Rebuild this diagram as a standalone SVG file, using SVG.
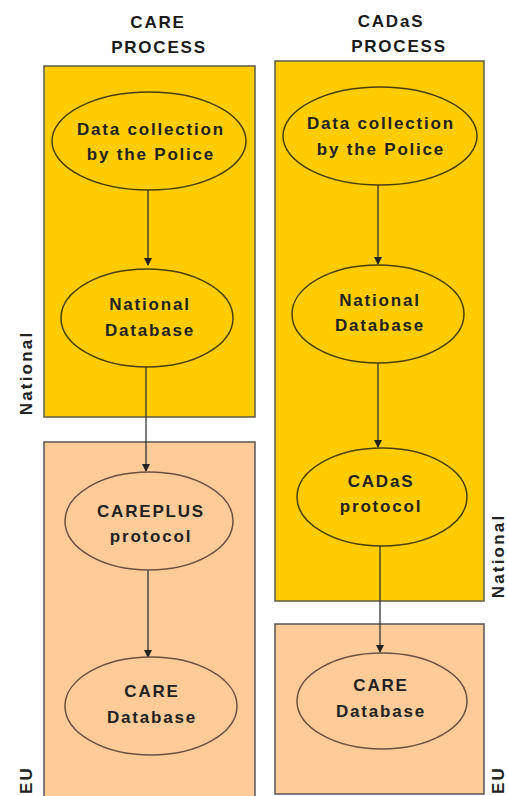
<svg xmlns="http://www.w3.org/2000/svg" width="508" height="796" viewBox="0 0 508 796">
<defs>
<style>
.nat{fill:#FFCC00;stroke:#5a5a4a;stroke-width:1.5}
.eu{fill:#FFCC99;stroke:#555;stroke-width:1.5}
.en{fill:#FFCC00;stroke:#4a3f10;stroke-width:1.5}
.ee{fill:#FFCC99;stroke:#6a5040;stroke-width:1.5}
text{font-family:"Liberation Sans",Arial,sans-serif;font-weight:bold;fill:#222;text-anchor:middle}
.t{font-size:17px;letter-spacing:1.8px}
.h{font-size:17px;letter-spacing:1.8px;fill:#1a1a1a}
.side{font-size:17px;letter-spacing:2.2px;fill:#222}
.c{stroke:#333;stroke-width:1.3;fill:none;marker-end:url(#ah)}
</style>
<marker id="ah" markerWidth="8" markerHeight="8" refX="7" refY="4" orient="auto" markerUnits="userSpaceOnUse">
<path d="M0,0 L8,4 L0,8 z" fill="#222"/>
</marker>
</defs>
<rect width="508" height="796" fill="#fff"/>

<g id="titles">
<text class="h" x="158" y="28">CARE</text>
<text class="h" x="159" y="53">PROCESS</text>
<text class="h" x="391" y="27">CADaS</text>
<text class="h" x="399" y="52">PROCESS</text>
</g>

<g id="lanes">
<rect class="nat" x="44" y="66" width="211" height="351"/>
<rect class="eu" x="44" y="442" width="211" height="360"/>
<rect class="nat" x="275" y="61" width="209" height="540"/>
<rect class="eu" x="275" y="624" width="209" height="170"/>
<text class="side" transform="translate(32,373) rotate(-90)">National</text>
<text class="side" transform="translate(32,780) rotate(-90)">EU</text>
<text class="side" transform="translate(504,556) rotate(-90)">National</text>
<text class="side" transform="translate(504,780) rotate(-90)">EU</text>
</g>

<g id="connectors">
<line class="c" x1="148" y1="190" x2="148" y2="265"/>
<line class="c" x1="146" y1="367" x2="146" y2="471"/>
<line class="c" x1="148" y1="570" x2="148" y2="657"/>
<line class="c" x1="378" y1="185" x2="378" y2="264"/>
<line class="c" x1="378" y1="363" x2="378" y2="447"/>
<line class="c" x1="380" y1="546" x2="380" y2="652"/>
</g>

<g id="care-police">
<ellipse class="en" cx="149" cy="141" rx="97" ry="49"/>
<text class="t" x="151" y="135">Data collection</text>
<text class="t" x="151" y="160">by the Police</text>
</g>
<g id="care-national">
<ellipse class="en" cx="147" cy="318" rx="86" ry="49"/>
<text class="t" x="150" y="310">National</text>
<text class="t" x="150" y="336">Database</text>
</g>
<g id="careplus">
<ellipse class="ee" cx="149" cy="521" rx="84" ry="49"/>
<text class="t" x="151" y="517">CAREPLUS</text>
<text class="t" x="151" y="542">protocol</text>
</g>
<g id="care-db-left">
<ellipse class="ee" cx="151" cy="706" rx="86" ry="49"/>
<text class="t" x="152" y="697">CARE</text>
<text class="t" x="152" y="723">Database</text>
</g>

<g id="cadas-police">
<ellipse class="en" cx="380" cy="136" rx="97" ry="49"/>
<text class="t" x="381" y="129">Data collection</text>
<text class="t" x="381" y="155">by the Police</text>
</g>
<g id="cadas-national">
<ellipse class="en" cx="378" cy="314" rx="86" ry="49"/>
<text class="t" x="380" y="306">National</text>
<text class="t" x="380" y="331">Database</text>
</g>
<g id="cadas-protocol">
<ellipse class="en" cx="382" cy="497" rx="85" ry="49"/>
<text class="t" x="381" y="487">CADaS</text>
<text class="t" x="381" y="512">protocol</text>
</g>
<g id="care-db-right">
<ellipse class="ee" cx="382" cy="701" rx="85" ry="48"/>
<text class="t" x="381" y="691">CARE</text>
<text class="t" x="381" y="717">Database</text>
</g>
</svg>
